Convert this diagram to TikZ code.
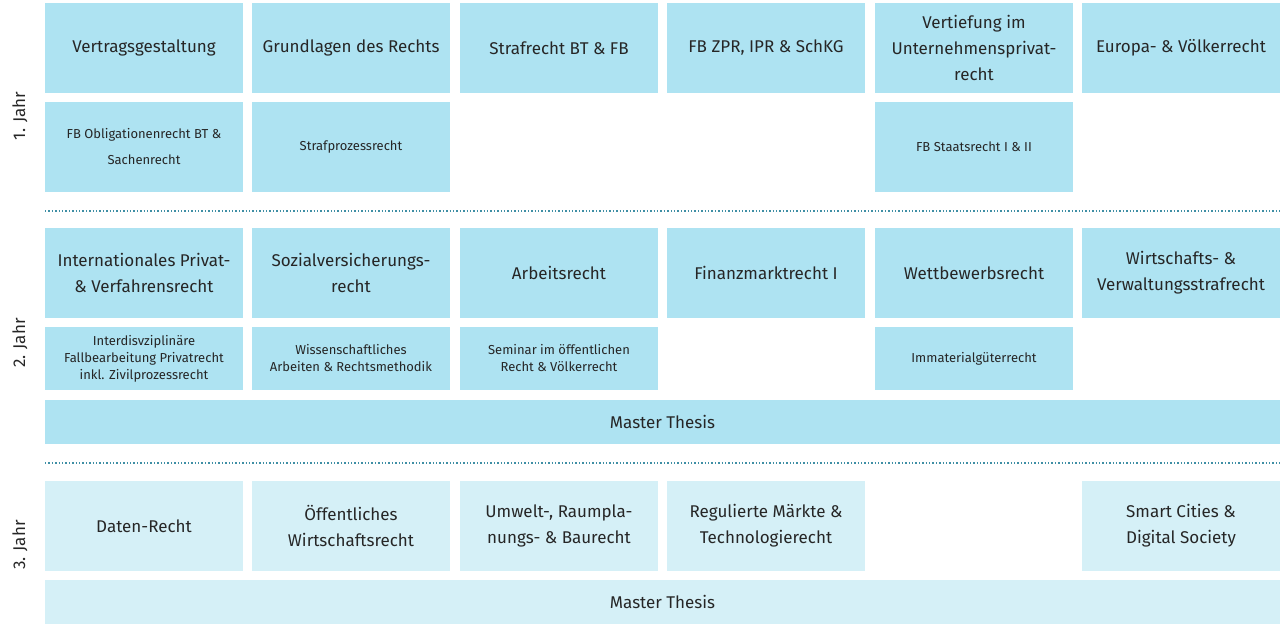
\documentclass[tikz,border=0pt]{standalone}
\usepackage{fontspec}
\setmainfont{Fira Sans}
\begin{document}
\begin{tikzpicture}[x=1pt,y=-1pt,
  dk/.style={fill=boxdark,draw=none},
  lt/.style={fill=boxlight,draw=none},
  big/.style={font=\fontsize{17}{26}\selectfont,text=black!85,align=center},
  sm/.style={font=\fontsize{13}{17}\selectfont,text=black!85,align=center},
  sep/.style={draw=sepcol,line width=1.4pt,dotted},
  yr/.style={font=\fontsize{17}{20}\selectfont,text=black!85,rotate=90}]
\definecolor{boxdark}{HTML}{AEE3F2}
\definecolor{boxlight}{HTML}{D5F0F7}
\definecolor{sepcol}{HTML}{3F8FA5}
\useasboundingbox (0,0) rectangle (1280,628);
\newcommand\bx[7]{\fill[#6] (#2,#3) rectangle (#4,#5);
  \node[#7] (#1) at ({(#2+#4)/2},{(#3+#5)/2})}
% columns
\def\ca{45}\def\cA{243}\def\cb{252}\def\cB{450}\def\cc{460}\def\cC{658}
\def\cd{667}\def\cD{865}\def\ce{875}\def\cE{1073}\def\cf{1082}\def\cF{1280}
% row 1
\bx{a1}{\ca}{3}{\cA}{93}{dk}{big} {Vertragsgestaltung};
\bx{b1}{\cb}{3}{\cB}{93}{dk}{big} {Grundlagen des Rechts};
\bx{c1}{\cc}{3}{\cC}{93}{dk}{big} {Strafrecht BT \& FB};
\bx{d1}{\cd}{3}{\cD}{93}{dk}{big} {FB ZPR, IPR \& SchKG};
\bx{e1}{\ce}{3}{\cE}{93}{dk}{big} {Vertiefung im\\Unternehmensprivat-\\recht};
\bx{f1}{\cf}{3}{\cF}{93}{dk}{big} {Europa- \& Völkerrecht};
\bx{a2}{\ca}{102}{\cA}{192}{dk}{sm,font=\fontsize{13}{26}\selectfont} {FB Obligationenrecht BT \&\\Sachenrecht};
\bx{b2}{\cb}{102}{\cB}{192}{dk}{sm} {Strafprozessrecht};
\bx{e2}{\ce}{102}{\cE}{192}{dk}{sm} {FB Staatsrecht I \& II};
\coordinate (s1a) at (45,211); \coordinate (s1b) at (1280,211);
\draw[sep] (s1a) -- (s1b);
% row 2
\bx{a3}{\ca}{228}{\cA}{318}{dk}{big} {Internationales Privat-\\\& Verfahrensrecht};
\bx{b3}{\cb}{228}{\cB}{318}{dk}{big} {Sozialversicherungs-\\recht};
\bx{c3}{\cc}{228}{\cC}{318}{dk}{big} {Arbeitsrecht};
\bx{d3}{\cd}{228}{\cD}{318}{dk}{big} {Finanzmarktrecht I};
\bx{e3}{\ce}{228}{\cE}{318}{dk}{big} {Wettbewerbsrecht};
\bx{f3}{\cf}{228}{\cF}{318}{dk}{big} {Wirtschafts- \&\\Verwaltungsstrafrecht};
\bx{a4}{\ca}{327}{\cA}{390}{dk}{sm} {Interdisvziplinäre\\Fallbearbeitung Privatrecht\\inkl. Zivilprozessrecht};
\bx{b4}{\cb}{327}{\cB}{390}{dk}{sm} {Wissenschaftliches\\Arbeiten \& Rechtsmethodik};
\bx{c4}{\cc}{327}{\cC}{390}{dk}{sm} {Seminar im öffentlichen\\Recht \& Völkerrecht};
\bx{e4}{\ce}{327}{\cE}{390}{dk}{sm} {Immaterialgüterrecht};
\bx{m2}{\ca}{400}{\cF}{444}{dk}{big} {Master Thesis};
\coordinate (s2a) at (45,463); \coordinate (s2b) at (1280,463);
\draw[sep] (s2a) -- (s2b);
% row 3
\bx{a5}{\ca}{481}{\cA}{571}{lt}{big} {Daten-Recht};
\bx{b5}{\cb}{481}{\cB}{571}{lt}{big} {Öffentliches\\Wirtschaftsrecht};
\bx{c5}{\cc}{481}{\cC}{571}{lt}{big} {Umwelt-, Raumpla-\\nungs- \& Baurecht};
\bx{d5}{\cd}{481}{\cD}{571}{lt}{big} {Regulierte Märkte \&\\Technologierecht};
\bx{f5}{\cf}{481}{\cF}{571}{lt}{big} {Smart Cities \&\\Digital Society};
\bx{m3}{\ca}{580}{\cF}{624}{lt}{big} {Master Thesis};
% year labels
\node[yr] (y1) at (20,116) {1. Jahr};
\node[yr] (y2) at (20,343) {2. Jahr};
\node[yr] (y3) at (20,545) {3. Jahr};
\end{tikzpicture}
\end{document}
